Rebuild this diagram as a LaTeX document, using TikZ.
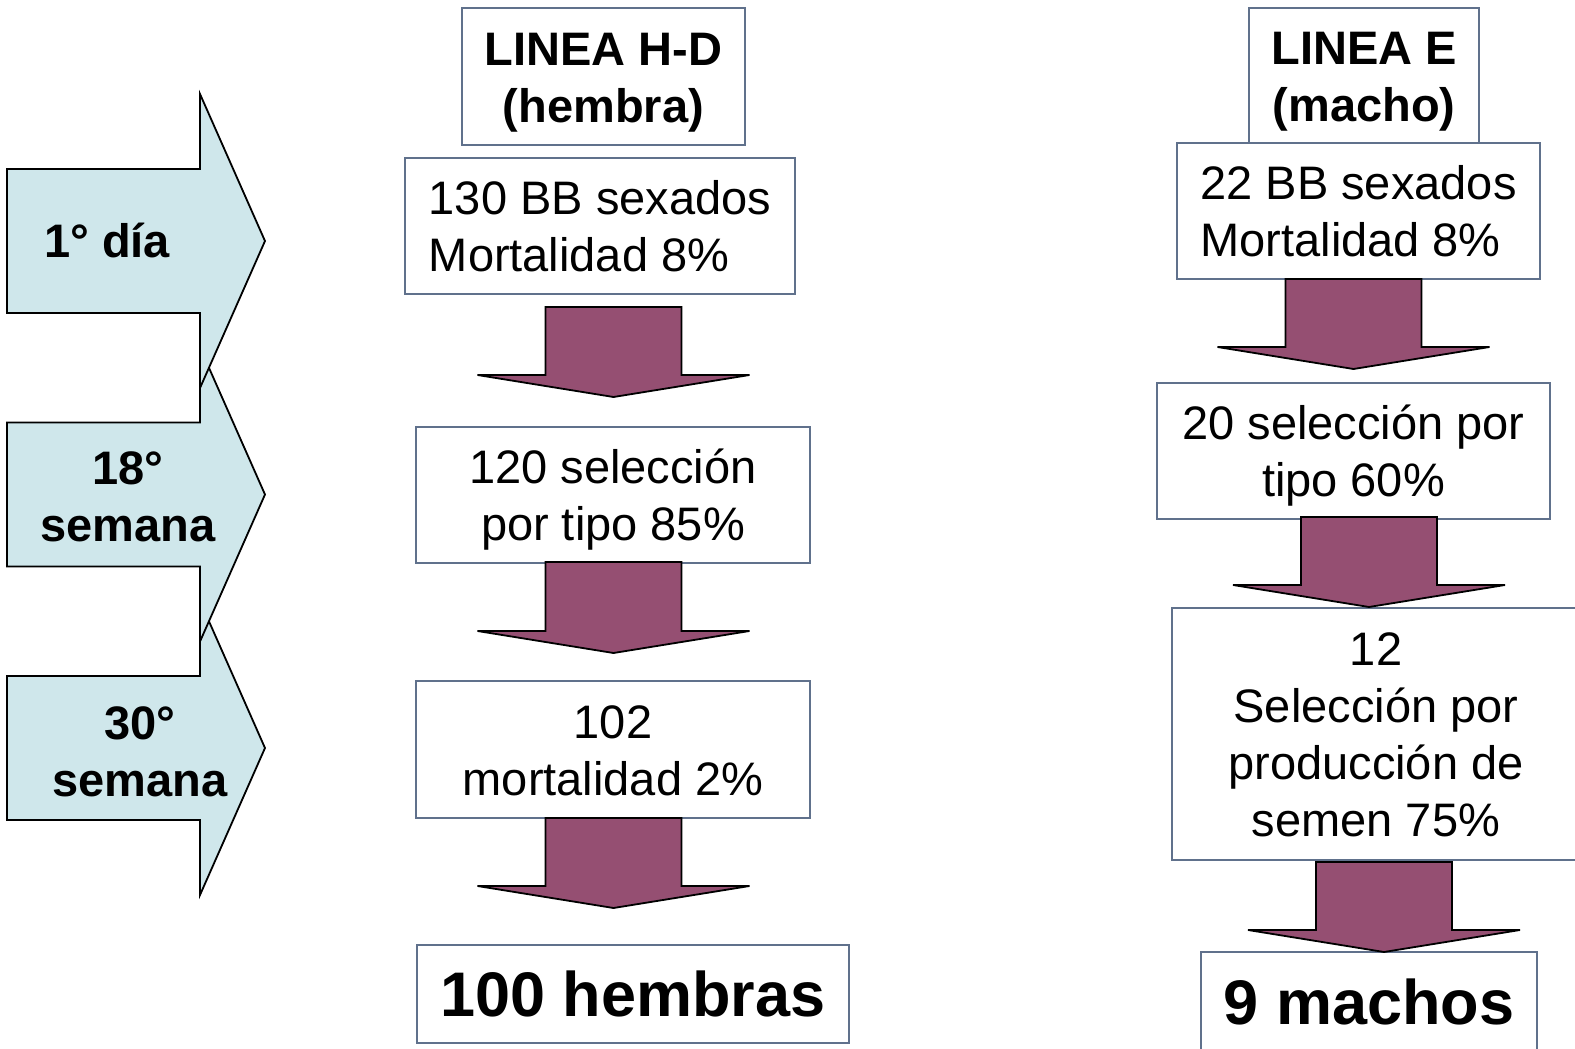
\documentclass[tikz,border=0pt]{standalone}
\usepackage{fontspec}
\setmainfont{Liberation Sans}
\definecolor{bluefill}{RGB}{207,231,235}
\definecolor{plum}{RGB}{149,79,114}
\definecolor{boxline}{RGB}{96,113,140}
\newcommand\tx[2][c]{\raisebox{-6pt}[\height][\depth]{\begin{tabular}{@{}#1@{}}#2\end{tabular}}}
\newcommand\tb[1]{\begin{tabular}{@{}c@{}}#1\end{tabular}}
\newcommand\chevron[1]{\path[chev] (7,#1-72) -- (200,#1-72) -- (200,#1-147) -- (265,#1) -- (200,#1+147) -- (200,#1+72) -- (7,#1+72) -- cycle;}
\newcommand\darr[3]{\path[darrow] (#1-68,#2) -- (#1+68,#2) -- (#1+68,#3-22) -- (#1+136,#3-22) -- (#1,#3) -- (#1-136,#3-22) -- (#1-68,#3-22) -- cycle;}
\begin{document}
\begin{tikzpicture}[x=1pt,y=-1pt,
  box/.style={draw=boxline, line width=1.8pt, fill=white, inner sep=0pt, font=\fontsize{47}{57}\selectfont},
  bigbox/.style={box, font=\fontsize{63}{76}\selectfont\bfseries},
  chev/.style={draw=black, line width=1.8pt, fill=bluefill, line join=miter},
  darrow/.style={draw=black, line width=1.8pt, fill=plum, line join=miter},
  lbl/.style={inner sep=0pt, font=\fontsize{47}{57}\selectfont\bfseries}]
\clip (0,0) rectangle (1575,1049);
\fill[white] (0,0) rectangle (1575,1049);

% left time arrows
\chevron{748}
\chevron{494.5}
\chevron{241}
\node[lbl] (d1) at (107,240) {1° día};
\node[lbl] (d2) at (128,502) {\tb{18°\\semana}};
\node[lbl] (d3) at (140,757) {\tb{30°\\semana}};

% left column
\node[box, font=\fontsize{47}{57}\selectfont\bfseries, minimum width=283, minimum height=137] (t1) at (603.5,76.5) {\tx{LINEA H-D\\(hembra)}};
\node[box, minimum width=390, minimum height=136] (b1) at (600,226) {\tx[l]{130 BB sexados\\Mortalidad 8\%}};
\node[box, minimum width=394, minimum height=136] (b2) at (613,495) {\tx{120 selección\\por tipo 85\%}};
\node[box, minimum width=394, minimum height=137] (b3) at (613,749.5) {\tx{102\\mortalidad 2\%}};
\node[bigbox, minimum width=432, minimum height=98] (bf) at (633,994) {100 hembras};
\darr{613.5}{307}{397}
\darr{613.5}{562}{653}
\darr{613.5}{818}{908}

% right column
\node[box, font=\fontsize{47}{57}\selectfont\bfseries, minimum width=230, minimum height=136] (t2) at (1364,76) {\tx{LINEA E\\(macho)}};
\node[box, minimum width=363, minimum height=136] (c1) at (1358.5,211) {\tx[l]{22 BB sexados\\Mortalidad 8\%}};
\node[box, minimum width=393, minimum height=136] (c2) at (1353.5,451) {\tx{20 selección por\\tipo 60\%}};
\node[box, minimum width=408, minimum height=252] (c3) at (1376,734) {\tx{12\\Selección por\\producción de\\semen 75\%}};
\node[bigbox, minimum width=336, minimum height=100] (cf) at (1369,1002) {9 machos};
\darr{1353.5}{279}{369}
\darr{1369}{517}{607}
\darr{1384}{862}{952}
\end{tikzpicture}
\end{document}
